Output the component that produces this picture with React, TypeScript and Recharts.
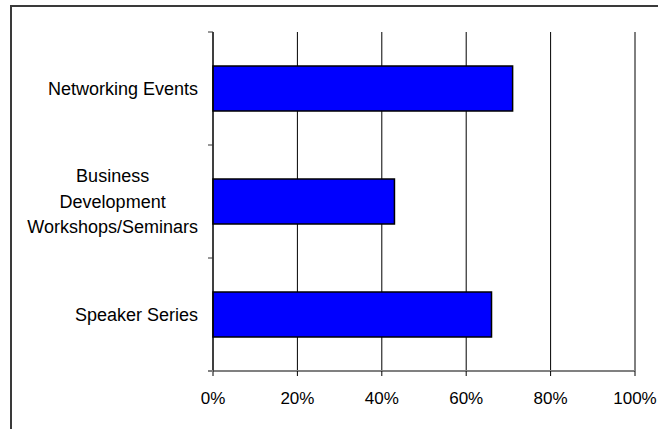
import { Bar, BarChart, CartesianGrid, XAxis, YAxis } from "recharts";

const categories = [
  "Networking Events",
  "Business\nDevelopment\nWorkshops/Seminars",
  "Speaker Series",
];
const shares = [0.71, 0.43, 0.66];
const xTicks = [0, 0.2, 0.4, 0.6, 0.8, 1];

const data = categories.map((name, i) => ({ name, share: shares[i] }));

const FONT = "'Liberation Sans', Arial, sans-serif";
const FONT_SIZE = 17;
const LABEL_SIZE = 18;
const TICK_MARGIN = 15;
const PLOT_H = 429 - 32 - 58;

let ctx: CanvasRenderingContext2D | null = null;
function textWidth(s: string) {
  if (!ctx) ctx = document.createElement("canvas").getContext("2d");
  if (!ctx) return s.length * 9;
  ctx.font = `${LABEL_SIZE}px ${FONT}`;
  return ctx.measureText(s).width;
}

// multi-line labels are centred inside a block right-aligned to the axis;
// the small tick marks sit on the band edges, not the band centres
function CategoryTick({ x, y, payload, index }: any) {
  const lines = String(payload.value).split("\n");
  const lineHeight = 25.5;
  const multi = lines.length > 1;
  const maxW = Math.max(...lines.map(textWidth));
  const tx = multi ? x - maxW / 2 : x;
  const startY = y - ((lines.length - 1) / 2) * lineHeight;
  const half = payload.offset > 0 ? payload.offset : PLOT_H / categories.length / 2;
  const axisX = x + TICK_MARGIN;
  const last = index === categories.length - 1;
  return (
    <g>
      <line x1={axisX - 5} x2={axisX} y1={y - half} y2={y - half} stroke="#333" />
      {last && (
        <line x1={axisX - 5} x2={axisX} y1={y + half} y2={y + half} stroke="#808080" strokeWidth={2} />
      )}
      <text
        x={tx}
        y={startY}
        textAnchor={multi ? "middle" : "end"}
        fontSize={LABEL_SIZE}
        fontFamily={FONT}
        fill="#000"
      >
        {lines.map((line, i) => (
          <tspan key={i} x={tx} y={startY + i * lineHeight} dy="0.355em">
            {line}
          </tspan>
        ))}
      </text>
    </g>
  );
}

export default function App() {
  return (
    <div
      style={{
        position: "absolute",
        left: 0,
        top: 0,
        width: 658,
        height: 429,
        overflow: "hidden",
        background: "#fff",
      }}
    >
      <div
        style={{
          position: "absolute",
          left: 10,
          top: 5,
          width: 700,
          height: 500,
          borderLeft: "2px solid #3a3a3a",
          borderTop: "2px solid #3a3a3a",
        }}
      />
      <div style={{ position: "absolute", left: 0, top: 0 }}>
        <BarChart
          width={658}
          height={429}
          data={data}
          layout="vertical"
          margin={{ top: 32, right: 23, bottom: 0, left: 0 }}
          barCategoryGap={0}
        >
          <CartesianGrid horizontal={false} stroke="#000" />
          <XAxis
            type="number"
            domain={[0, 1]}
            ticks={xTicks}
            height={58}
            axisLine={{ stroke: "#808080", strokeWidth: 2 }}
            tickLine={{ stroke: "#000" }}
            tickSize={5}
            tickMargin={16}
            tickFormatter={(v) => `${Math.round(v * 100)}%`}
            tick={{ fontSize: FONT_SIZE, fontFamily: FONT, fill: "#000" }}
          />
          <YAxis
            type="category"
            dataKey="name"
            width={213}
            axisLine={{ stroke: "#000" }}
            tickLine={false}
            tickSize={0}
            tickMargin={TICK_MARGIN}
            tick={<CategoryTick />}
          />
          <Bar
            dataKey="share"
            fill="#0000ff"
            stroke="#000"
            strokeWidth={1.5}
            barSize={45}
            isAnimationActive={false}
          />
        </BarChart>
      </div>
    </div>
  );
}
